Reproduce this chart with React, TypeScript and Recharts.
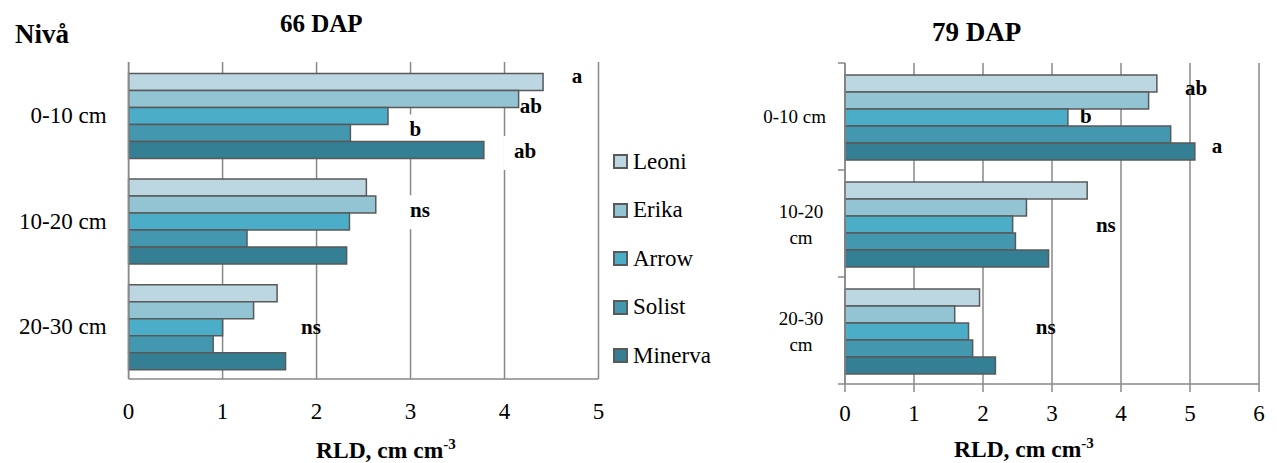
import { BarChart, Bar, XAxis, YAxis, CartesianGrid, ReferenceDot, Legend } from "recharts"

const levels = ["0-10 cm", "10-20 cm", "20-30 cm"]
const varieties = ["Leoni", "Erika", "Arrow", "Solist", "Minerva"]
const colors = ["#bcd7e2", "#93c4d4", "#4badc7", "#4398b0", "#357f94"]

// RLD (cm cm-3) per level: 0-10, 10-20, 20-30 cm
const leoni66 = [4.41, 2.53, 1.58]
const erika66 = [4.15, 2.63, 1.33]
const arrow66 = [2.76, 2.35, 1.0]
const solist66 = [2.36, 1.26, 0.9]
const minerva66 = [3.78, 2.32, 1.67]

const leoni79 = [4.52, 3.51, 1.95]
const erika79 = [4.4, 2.63, 1.59]
const arrow79 = [3.23, 2.43, 1.79]
const solist79 = [4.72, 2.47, 1.85]
const minerva79 = [5.07, 2.95, 2.18]

const ticks66 = [0, 1, 2, 3, 4, 5]
const ticks79 = [0, 1, 2, 3, 4, 5, 6]
const levelLines79 = [["0-10 cm"], ["10-20", "cm"], ["20-30", "cm"]]

// significance letters: level, bar slot (0 = Leoni ... 4 = Minerva), RLD position
const letters66 = [
  { level: "0-10 cm", slot: -0.2, x: 4.77, text: "a", box: false },
  { level: "0-10 cm", slot: 1.6, x: 4.28, text: "ab", box: false },
  { level: "0-10 cm", slot: 3, x: 3.05, text: "b", box: true },
  { level: "0-10 cm", slot: 4.3, x: 4.22, text: "ab", box: true },
  { level: "10-20 cm", slot: 1.5, x: 3.1, text: "ns", box: true },
  { level: "20-30 cm", slot: 2.2, x: 1.94, text: "ns", box: false },
]
const letters79 = [
  { level: "0-10 cm", slot: 0.4, x: 5.09, text: "ab", box: false },
  { level: "0-10 cm", slot: 2.1, x: 3.49, text: "b", box: false },
  { level: "0-10 cm", slot: 3.9, x: 5.39, text: "a", box: false },
  { level: "10-20 cm", slot: 2.2, x: 3.78, text: "ns", box: false },
  { level: "20-30 cm", slot: 1.9, x: 2.91, text: "ns", box: false },
]

const FONT = "Liberation Serif"
const GRID = "#898989"
const BORDER = "#595959"
const BAR_PITCH = 16.6

function buildRows(series: number[][]) {
  return levels.map((level, i) => {
    const row: Record<string, string | number> = { level }
    varieties.forEach((v, j) => {
      row[v] = series[j][i]
    })
    return row
  })
}

const rows66 = buildRows([leoni66, erika66, arrow66, solist66, minerva66])
const rows79 = buildRows([leoni79, erika79, arrow79, solist79, minerva79])

function letterShape(text: string, slot: number, box: boolean) {
  return (props: any) => {
    const cx = props.cx
    const cy = props.cy + (slot - 2) * BAR_PITCH
    return (
      <g>
        {box && <rect x={cx - 22} y={cy - 17} width={44} height={34} fill="#fff" />}
        <text
          x={cx}
          y={cy + 5}
          textAnchor="middle"
          fontWeight="bold"
          fontSize={21}
          fontFamily={FONT}
          fill="#000"
        >
          {text}
        </text>
      </g>
    )
  }
}

// category labels of the 79 DAP panel, with ticks at the band edges
function RightLevelTick(props: any) {
  const { x, y, payload, index } = props
  const half = payload.offset || 53.5
  const axisX = x + 19
  const lines = levelLines79[levels.indexOf(payload.value)] || [payload.value]
  return (
    <g>
      <line x1={axisX - 7} x2={axisX} y1={y - half} y2={y - half} stroke={GRID} strokeWidth={1.5} />
      {index === levels.length - 1 && (
        <line x1={axisX - 7} x2={axisX} y1={y + half} y2={y + half} stroke={GRID} strokeWidth={1.5} />
      )}
      {lines.length === 1 ? (
        <text x={x} y={y} dy="0.355em" textAnchor="end" fontSize={19} fontFamily={FONT} fill="#000">
          {lines[0]}
        </text>
      ) : (
        <text textAnchor="middle" fontSize={19} fontFamily={FONT} fill="#000">
          {lines.map((line, i) => (
            <tspan key={i} x={x - 25} y={y + 1 + (i - (lines.length - 1) / 2) * 26} dy="0.355em">
              {line}
            </tspan>
          ))}
        </text>
      )}
    </g>
  )
}

const renderLegend = ({ payload }: any) => {
  const items = [...(payload || [])].sort(
    (a: any, b: any) => varieties.indexOf(a.value) - varieties.indexOf(b.value)
  )
  return (
    <div>
      {items.map((p: any) => (
        <div
          key={p.value}
          style={{
            height: 48.5,
            display: "flex",
            alignItems: "center",
            fontSize: 23,
            fontFamily: FONT,
            color: "#000",
          }}
        >
          <span
            style={{
              width: 11,
              height: 11,
              border: `2px solid ${BORDER}`,
              background: p.color,
              marginRight: 5,
              display: "inline-block",
            }}
          />
          {p.value}
        </div>
      ))}
    </div>
  )
}

const tickStyle = { fontSize: 23, fill: "#000", fontFamily: FONT }

function Chart66() {
  return (
    <BarChart
      width={730}
      height={463}
      data={rows66}
      layout="vertical"
      margin={{ top: 62, right: 131.5, bottom: 0, left: 0 }}
      barCategoryGap="10.8%"
      barGap={0}
    >
      <CartesianGrid horizontal={false} stroke={GRID} strokeWidth={1.5} />
      <XAxis
        type="number"
        domain={[0, 5]}
        ticks={ticks66}
        height={84}
        axisLine={{ stroke: GRID, strokeWidth: 1.5 }}
        tickLine={false}
        tickSize={0}
        tickMargin={24}
        tick={tickStyle}
      />
      <YAxis
        type="category"
        dataKey="level"
        width={128.6}
        axisLine={{ stroke: GRID, strokeWidth: 1.5 }}
        tickLine={false}
        tickSize={0}
        tickMargin={22}
        tick={tickStyle}
      />
      {letters66.map((l, i) => (
        <ReferenceDot
          key={i}
          x={l.x}
          y={l.level}
          ifOverflow="visible"
          zIndex={0}
          shape={letterShape(l.text, l.slot, l.box)}
        />
      ))}
      {varieties.map((v, i) => (
        <Bar
          key={v}
          dataKey={v}
          name={v}
          fill={colors[i]}
          stroke={BORDER}
          strokeWidth={1.5}
          isAnimationActive={false}
        />
      ))}
      <Legend
        layout="vertical"
        align="center"
        verticalAlign="middle"
        wrapperStyle={{ left: 613, top: 137.5, width: 120 }}
        content={renderLegend}
      />
    </BarChart>
  )
}

function Chart79() {
  return (
    <BarChart
      width={542}
      height={463}
      data={rows79}
      layout="vertical"
      margin={{ top: 63, right: 18, bottom: 0, left: 0 }}
      barCategoryGap="11.2%"
      barGap={0}
    >
      <CartesianGrid horizontal={false} stroke={GRID} strokeWidth={1.5} />
      <XAxis
        type="number"
        domain={[0, 6]}
        ticks={ticks79}
        height={79}
        axisLine={{ stroke: GRID, strokeWidth: 1.5 }}
        tickLine={{ stroke: GRID, strokeWidth: 1.5 }}
        tickSize={8}
        tickMargin={13}
        tick={tickStyle}
      />
      <YAxis
        type="category"
        dataKey="level"
        width={110}
        axisLine={{ stroke: GRID, strokeWidth: 1.5 }}
        tickLine={false}
        tickSize={0}
        tickMargin={19}
        tick={<RightLevelTick />}
      />
      {letters79.map((l, i) => (
        <ReferenceDot
          key={i}
          x={l.x}
          y={l.level}
          ifOverflow="visible"
          zIndex={0}
          shape={letterShape(l.text, l.slot, l.box)}
        />
      ))}
      {varieties.map((v, i) => (
        <Bar
          key={v}
          dataKey={v}
          name={v}
          fill={colors[i]}
          stroke={BORDER}
          strokeWidth={1.5}
          isAnimationActive={false}
        />
      ))}
    </BarChart>
  )
}

function AxisTitle({ x, y }: { x: number; y: number }) {
  return (
    <text x={x} y={y} fontWeight="bold" fontSize={23.5} fontFamily={FONT}>
      RLD, cm cm<tspan dy={-9} fontSize={15}>-3</tspan>
    </text>
  )
}

export default function App() {
  return (
    <div
      style={{
        position: "absolute",
        left: 0,
        top: 0,
        width: 1277,
        height: 463,
        background: "#fff",
        fontFamily: FONT,
      }}
    >
      <div style={{ position: "absolute", left: 0, top: 0 }}>
        <Chart66 />
      </div>
      <div style={{ position: "absolute", left: 735, top: 0 }}>
        <Chart79 />
      </div>
      <svg
        width={1277}
        height={463}
        style={{ position: "absolute", left: 0, top: 0, pointerEvents: "none" }}
      >
        <text x={15} y={43} fontWeight="bold" fontSize={27} fontFamily={FONT}>Nivå</text>
        <text x={280} y={32} fontWeight="bold" fontSize={25} fontFamily={FONT}>66 DAP</text>
        <text x={932} y={41} fontWeight="bold" fontSize={27} fontFamily={FONT}>79 DAP</text>
        <AxisTitle x={316} y={458} />
        <AxisTitle x={954} y={457} />
      </svg>
    </div>
  )
}
